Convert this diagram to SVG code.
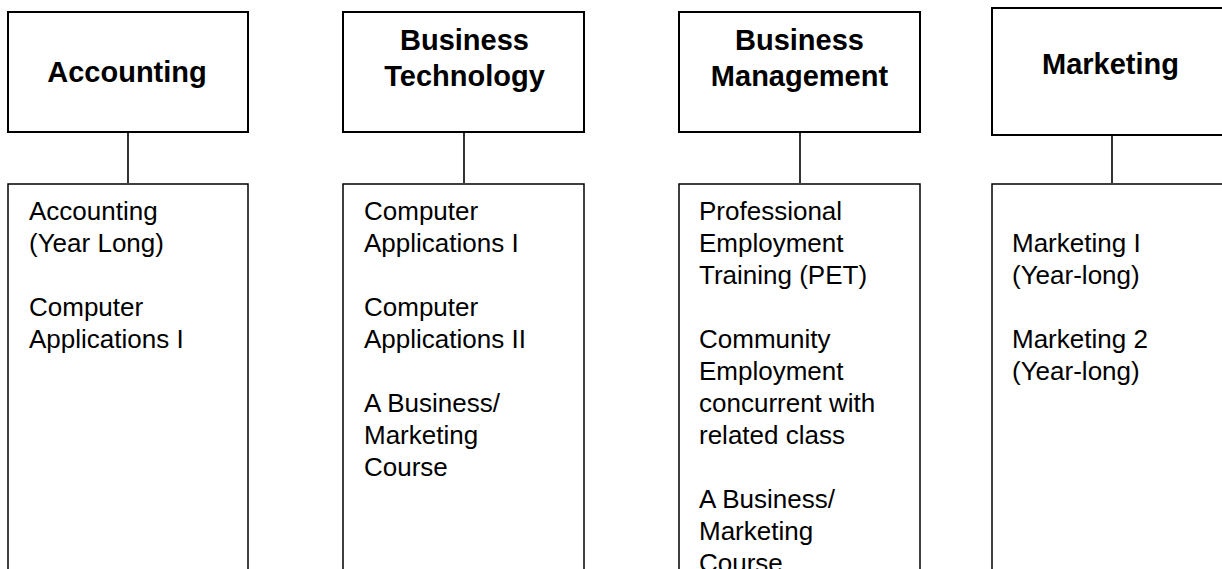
<svg xmlns="http://www.w3.org/2000/svg" width="1222" height="569" viewBox="0 0 1222 569">
  <style>
    .head { fill: #fff; stroke: #000; stroke-width: 2; }
    .body { fill: #fff; stroke: #000; stroke-width: 1.5; }
    .link { stroke: #000; stroke-width: 1.6; fill: none; }
    .title { font-family: "Liberation Sans", Arial, sans-serif; font-weight: bold; font-size: 29px; fill: #000; text-anchor: middle; }
    .item { font-family: "Liberation Sans", Arial, sans-serif; font-size: 26px; fill: #000; }
  </style>
  <rect width="1222" height="569" fill="#fff"/>

  <!-- connectors between heading boxes and course lists -->
  <g id="connectors">
    <line class="link" x1="128" y1="132" x2="128" y2="183"/>
    <line class="link" x1="464" y1="132" x2="464" y2="183"/>
    <line class="link" x1="800" y1="132" x2="800" y2="183"/>
    <line class="link" x1="1112" y1="135" x2="1112" y2="183"/>
  </g>

  <!-- Accounting -->
  <g id="accounting">
    <rect class="head" x="8" y="12" width="240" height="120"/>
    <text class="title" x="127" y="81.5">Accounting</text>
  </g>
  <g id="accounting-courses">
    <rect class="body" x="8" y="184" width="240" height="400"/>
    <text class="item" x="29" y="220">Accounting</text>
    <text class="item" x="29" y="252">(Year Long)</text>
    <text class="item" x="29" y="316">Computer</text>
    <text class="item" x="29" y="348">Applications I</text>
  </g>

  <!-- Business Technology -->
  <g id="business-technology">
    <rect class="head" x="343" y="12" width="241" height="120"/>
    <text class="title" x="464.5" y="50">Business</text>
    <text class="title" x="464.5" y="86">Technology</text>
  </g>
  <g id="business-technology-courses">
    <rect class="body" x="343" y="184" width="241" height="400"/>
    <text class="item" x="364" y="220">Computer</text>
    <text class="item" x="364" y="252">Applications I</text>
    <text class="item" x="364" y="316">Computer</text>
    <text class="item" x="364" y="348">Applications II</text>
    <text class="item" x="364" y="412">A Business/</text>
    <text class="item" x="364" y="444">Marketing</text>
    <text class="item" x="364" y="476">Course</text>
  </g>

  <!-- Business Management -->
  <g id="business-management">
    <rect class="head" x="679" y="12" width="241" height="120"/>
    <text class="title" x="799.5" y="50">Business</text>
    <text class="title" x="799.5" y="86">Management</text>
  </g>
  <g id="business-management-courses">
    <rect class="body" x="679" y="184" width="241" height="400"/>
    <text class="item" x="699" y="219.5">Professional</text>
    <text class="item" x="699" y="251.5">Employment</text>
    <text class="item" x="699" y="283.5">Training (PET)</text>
    <text class="item" x="699" y="347.5">Community</text>
    <text class="item" x="699" y="379.5">Employment</text>
    <text class="item" x="699" y="411.5">concurrent with</text>
    <text class="item" x="699" y="443.5">related class</text>
    <text class="item" x="699" y="507.5">A Business/</text>
    <text class="item" x="699" y="539.5">Marketing</text>
    <text class="item" x="699" y="571.5">Course</text>
  </g>

  <!-- Marketing -->
  <g id="marketing">
    <rect class="head" x="992" y="8" width="260" height="127"/>
    <text class="title" x="1110.5" y="74">Marketing</text>
  </g>
  <g id="marketing-courses">
    <rect class="body" x="992" y="184" width="260" height="400"/>
    <text class="item" x="1012" y="252">Marketing I</text>
    <text class="item" x="1012" y="284">(Year-long)</text>
    <text class="item" x="1012" y="348">Marketing 2</text>
    <text class="item" x="1012" y="380">(Year-long)</text>
  </g>
</svg>
